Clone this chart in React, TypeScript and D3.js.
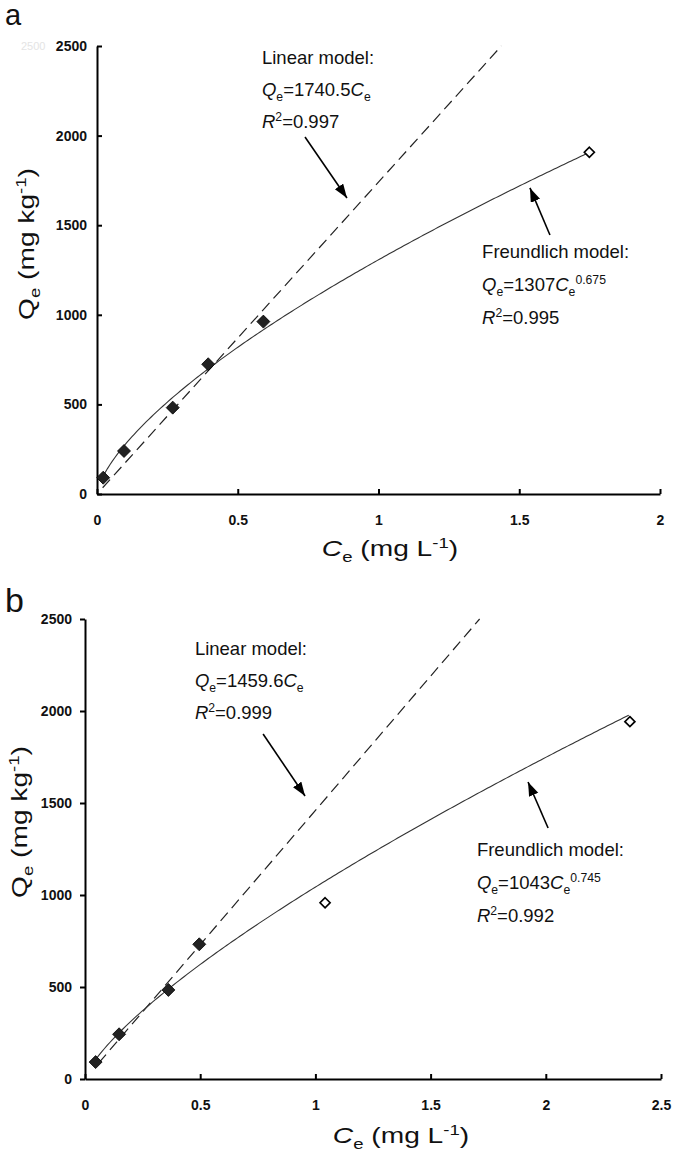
import React, { useEffect, useRef } from 'react';
import * as d3 from 'd3';

// ---------- data ----------
const yTicks = [0, 500, 1000, 1500, 2000, 2500];
const xTicksA = [0, 0.5, 1, 1.5, 2];
const xTicksB = [0, 0.5, 1, 1.5, 2, 2.5];

// Panel a
const ceFilledA = [0.022, 0.096, 0.269, 0.395, 0.591];
const qeFilledA = [91, 240, 482, 724, 962];
const ceOpenA = [1.749];
const qeOpenA = [1907];
const linearSlopeA = 1740.5;
const freundKA = 1307;
const freundNA = 0.675;
const r2LinearA = '0.997';
const r2FreundA = '0.995';

// Panel b
const ceFilledB = [0.046, 0.148, 0.362, 0.496];
const qeFilledB = [92, 243, 484, 732];
const ceOpenB = [1.042, 2.365];
const qeOpenB = [958, 1942];
const linearSlopeB = 1459.6;
const freundKB = 1043;
const freundNB = 0.745;
const r2LinearB = '0.999';
const r2FreundB = '0.992';

const FONT = '"Liberation Sans", Arial, Helvetica, sans-serif';

type Seg = { t: string; i?: boolean; sub?: boolean; sup?: boolean };

function Rich({ x, y, segs, size, anchor }: { x: number; y: number; segs: Seg[]; size: number; anchor?: string }) {
  let prev = 0;
  return (
    <text x={x} y={y} fontSize={size} fontFamily={FONT} fill="#111" textAnchor={anchor || 'start'}>
      {segs.map((s, k) => {
        const shift = s.sub ? size * 0.25 : s.sup ? -size * 0.38 : 0;
        const dy = shift - prev;
        prev = shift;
        return (
          <tspan key={k} dy={dy} fontStyle={s.i ? 'italic' : 'normal'} fontSize={s.sub || s.sup ? size * 0.66 : size}>
            {s.t}
          </tspan>
        );
      })}
    </text>
  );
}

type PanelCfg = {
  id: string;
  letter: string;
  letterPos: [number, number, number];
  xDomain: [number, number];
  xRange: [number, number];
  yRange: [number, number];
  xTicks: number[];
  yTickSide: number;
  yTickPad: number;
  ceFilled: number[];
  qeFilled: number[];
  ceOpen: number[];
  qeOpen: number[];
  slope: number;
  K: number;
  n: number;
  r2Lin: string;
  r2Fr: string;
  linStart: number;
  frStart: number;
  frEnd: number;
  linText: [number, number];
  frText: [number, number];
  linArrow: [number, number, number, number];
  frArrow: [number, number, number, number];
  xLabel: [number, number];
  yLabel: [number, number];
};

function Axes({ cfg, x, y }: { cfg: PanelCfg; x: any; y: any }) {
  const xRef = useRef<SVGGElement>(null);
  const yRef = useRef<SVGGElement>(null);
  useEffect(() => {
    const xa = d3
      .axisBottom(x)
      .tickValues(cfg.xTicks)
      .tickFormat((d: any) => String(d))
      .tickSizeInner(-5)
      .tickSizeOuter(0)
      .tickPadding(21);
    const gx = d3.select(xRef.current!);
    gx.call(xa as any);
    gx.select('.domain').attr('stroke', '#000').attr('stroke-width', 2);
    gx.selectAll('.tick line').attr('stroke', '#000').attr('stroke-width', 2);
    gx.selectAll('.tick text')
      .attr('font-family', FONT)
      .attr('font-size', 14)
      .attr('font-weight', 'bold')
      .attr('fill', '#111');

    const ya = d3
      .axisLeft(y)
      .tickValues(yTicks)
      .tickFormat((d: any) => String(d))
      .tickSizeInner(cfg.yTickSide)
      .tickSizeOuter(0)
      .tickPadding(cfg.yTickPad);
    const gy = d3.select(yRef.current!);
    gy.call(ya as any);
    gy.select('.domain').attr('stroke', '#000').attr('stroke-width', 2);
    gy.selectAll('.tick line').attr('stroke', '#000').attr('stroke-width', 2);
    gy.selectAll('.tick text')
      .attr('font-family', FONT)
      .attr('font-size', 14)
      .attr('font-weight', 'bold')
      .attr('fill', '#111');
  }, [cfg, x, y]);
  return (
    <g>
      <g ref={xRef} transform={`translate(0,${cfg.yRange[0]})`} />
      <g ref={yRef} transform={`translate(${cfg.xRange[0]},0)`} />
    </g>
  );
}

const diamondPath = (r: number) => `M0,${-r}L${r},0L0,${r}L${-r},0Z`;

function Panel({ cfg }: { cfg: PanelCfg }) {
  const x = d3.scaleLinear().domain(cfg.xDomain).range(cfg.xRange);
  const y = d3.scaleLinear().domain([0, 2500]).range(cfg.yRange);

  const linEnd = 2500 / cfg.slope;
  const line = d3
    .line<[number, number]>()
    .x((d) => x(d[0]))
    .y((d) => y(d[1]));
  const linPts: [number, number][] = [cfg.linStart, linEnd].map((c) => [c, cfg.slope * c]);
  const frPts: [number, number][] = d3
    .range(0, 201)
    .map((i) => cfg.frStart + ((cfg.frEnd - cfg.frStart) * i) / 200)
    .map((c) => [c, cfg.K * Math.pow(c, cfg.n)]);

  const lh = 32;
  const [ltx, lty] = [x(cfg.linText[0]), y(cfg.linText[1])];
  const [ftx, fty] = [x(cfg.frText[0]), y(cfg.frText[1])];
  const arrow = (a: [number, number, number, number]) => (
    <line
      x1={x(a[0])}
      y1={y(a[1])}
      x2={x(a[2])}
      y2={y(a[3])}
      stroke="#000"
      strokeWidth={1.6}
      markerEnd={`url(#arr-${cfg.id})`}
    />
  );

  return (
    <g>
      <defs>
        <marker
          id={`arr-${cfg.id}`}
          markerUnits="userSpaceOnUse"
          markerWidth={15}
          markerHeight={12}
          refX={14}
          refY={5}
          orient="auto"
        >
          <path d="M0,0 L14,5 L0,10 Z" fill="#000" />
        </marker>
      </defs>
      <text x={cfg.letterPos[0]} y={cfg.letterPos[1]} fontSize={cfg.letterPos[2]} fontFamily={FONT} fill="#111">
        {cfg.letter}
      </text>
      <Axes cfg={cfg} x={x} y={y} />
      <path d={line(linPts)!} fill="none" stroke="#222" strokeWidth={1.2} strokeDasharray="11,6" />
      <path d={line(frPts)!} fill="none" stroke="#333" strokeWidth={1.1} />
      {cfg.ceFilled.map((c, i) => (
        <path
          key={'f' + i}
          d={diamondPath(6.5)}
          transform={`translate(${x(c)},${y(cfg.qeFilled[i])})`}
          fill="#222"
          stroke="#000"
          strokeWidth={0.8}
        />
      ))}
      {cfg.ceOpen.map((c, i) => (
        <path
          key={'o' + i}
          d={diamondPath(5)}
          transform={`translate(${x(c)},${y(cfg.qeOpen[i])})`}
          fill="#fff"
          stroke="#000"
          strokeWidth={1.7}
        />
      ))}
      {arrow(cfg.linArrow)}
      {arrow(cfg.frArrow)}
      <Rich x={ltx} y={lty} size={18.5} segs={[{ t: 'Linear model:' }]} />
      <Rich
        x={ltx}
        y={lty + lh}
        size={18.5}
        segs={[
          { t: 'Q', i: true },
          { t: 'e', sub: true },
          { t: '=' + cfg.slope.toFixed(1) },
          { t: 'C', i: true },
          { t: 'e', sub: true },
        ]}
      />
      <Rich x={ltx} y={lty + 2 * lh} size={18.5} segs={[{ t: 'R', i: true }, { t: '2', sup: true }, { t: '=' + cfg.r2Lin }]} />
      <Rich x={ftx} y={fty} size={18.5} segs={[{ t: 'Freundlich model:' }]} />
      <Rich
        x={ftx}
        y={fty + lh + 1}
        size={18.5}
        segs={[
          { t: 'Q', i: true },
          { t: 'e', sub: true },
          { t: '=' + cfg.K },
          { t: 'C', i: true },
          { t: 'e', sub: true },
          { t: String(cfg.n), sup: true },
        ]}
      />
      <Rich x={ftx} y={fty + 2 * lh + 2} size={18.5} segs={[{ t: 'R', i: true }, { t: '2', sup: true }, { t: '=' + cfg.r2Fr }]} />
      <g transform={`translate(${cfg.xLabel[0]},${cfg.xLabel[1]}) scale(1.28,1)`}>
        <Rich
          x={0}
          y={0}
          size={22}
          anchor="middle"
          segs={[{ t: 'C', i: true }, { t: 'e', sub: true }, { t: ' (mg L' }, { t: '-1', sup: true }, { t: ')' }]}
        />
      </g>
      <g transform={`translate(${cfg.yLabel[0]},${cfg.yLabel[1]}) rotate(-90) scale(1.28,1)`}>
        <Rich
          x={0}
          y={0}
          size={22}
          anchor="middle"
          segs={[{ t: 'Q' }, { t: 'e', sub: true }, { t: ' (mg kg' }, { t: '-1', sup: true }, { t: ')' }]}
        />
      </g>
    </g>
  );
}

const panelA: PanelCfg = {
  id: 'a',
  letter: 'a',
  letterPos: [5, 25, 29],
  xDomain: [0, 2],
  xRange: [97, 660],
  yRange: [494, 46],
  xTicks: xTicksA,
  yTickSide: -5,
  yTickPad: 10,
  ceFilled: ceFilledA,
  qeFilled: qeFilledA,
  ceOpen: ceOpenA,
  qeOpen: qeOpenA,
  slope: linearSlopeA,
  K: freundKA,
  n: freundNA,
  r2Lin: r2LinearA,
  r2Fr: r2FreundA,
  linStart: 0.02,
  frStart: 0.02,
  frEnd: 1.745,
  linText: [0.586, 2400],
  frText: [1.368, 1317],
  linArrow: [0.739, 1992, 0.888, 1652],
  frArrow: [1.609, 1445, 1.538, 1708],
  xLabel: [390, 556],
  yLabel: [34, 244],
};

const panelB: PanelCfg = {
  id: 'b',
  letter: 'b',
  letterPos: [5, 612, 34],
  xDomain: [0, 2.5],
  xRange: [85, 661],
  yRange: [1079, 619],
  xTicks: xTicksB,
  yTickSide: 5,
  yTickPad: 8,
  ceFilled: ceFilledB,
  qeFilled: qeFilledB,
  ceOpen: ceOpenB,
  qeOpen: qeOpenB,
  slope: linearSlopeB,
  K: freundKB,
  n: freundNB,
  r2Lin: r2LinearB,
  r2Fr: r2FreundB,
  linStart: 0.06,
  frStart: 0.05,
  frEnd: 2.36,
  linText: [0.477, 2304],
  frText: [1.701, 1212],
  linArrow: [0.773, 1875, 0.955, 1538],
  frArrow: [2.01, 1364, 1.923, 1614],
  xLabel: [401, 1143],
  yLabel: [27, 822],
};

export default function App() {
  return (
    <svg
      width={675}
      height={1152}
      style={{ position: 'absolute', left: 0, top: 0, background: '#fff' }}
      xmlns="http://www.w3.org/2000/svg"
    >
      <rect x={0} y={0} width={675} height={1152} fill="#fff" />
      <text x={21} y={50} fontSize={11} fontFamily={FONT} fill="#e4e4e4">
        2500
      </text>
      <Panel cfg={panelA} />
      <Panel cfg={panelB} />
    </svg>
  );
}
